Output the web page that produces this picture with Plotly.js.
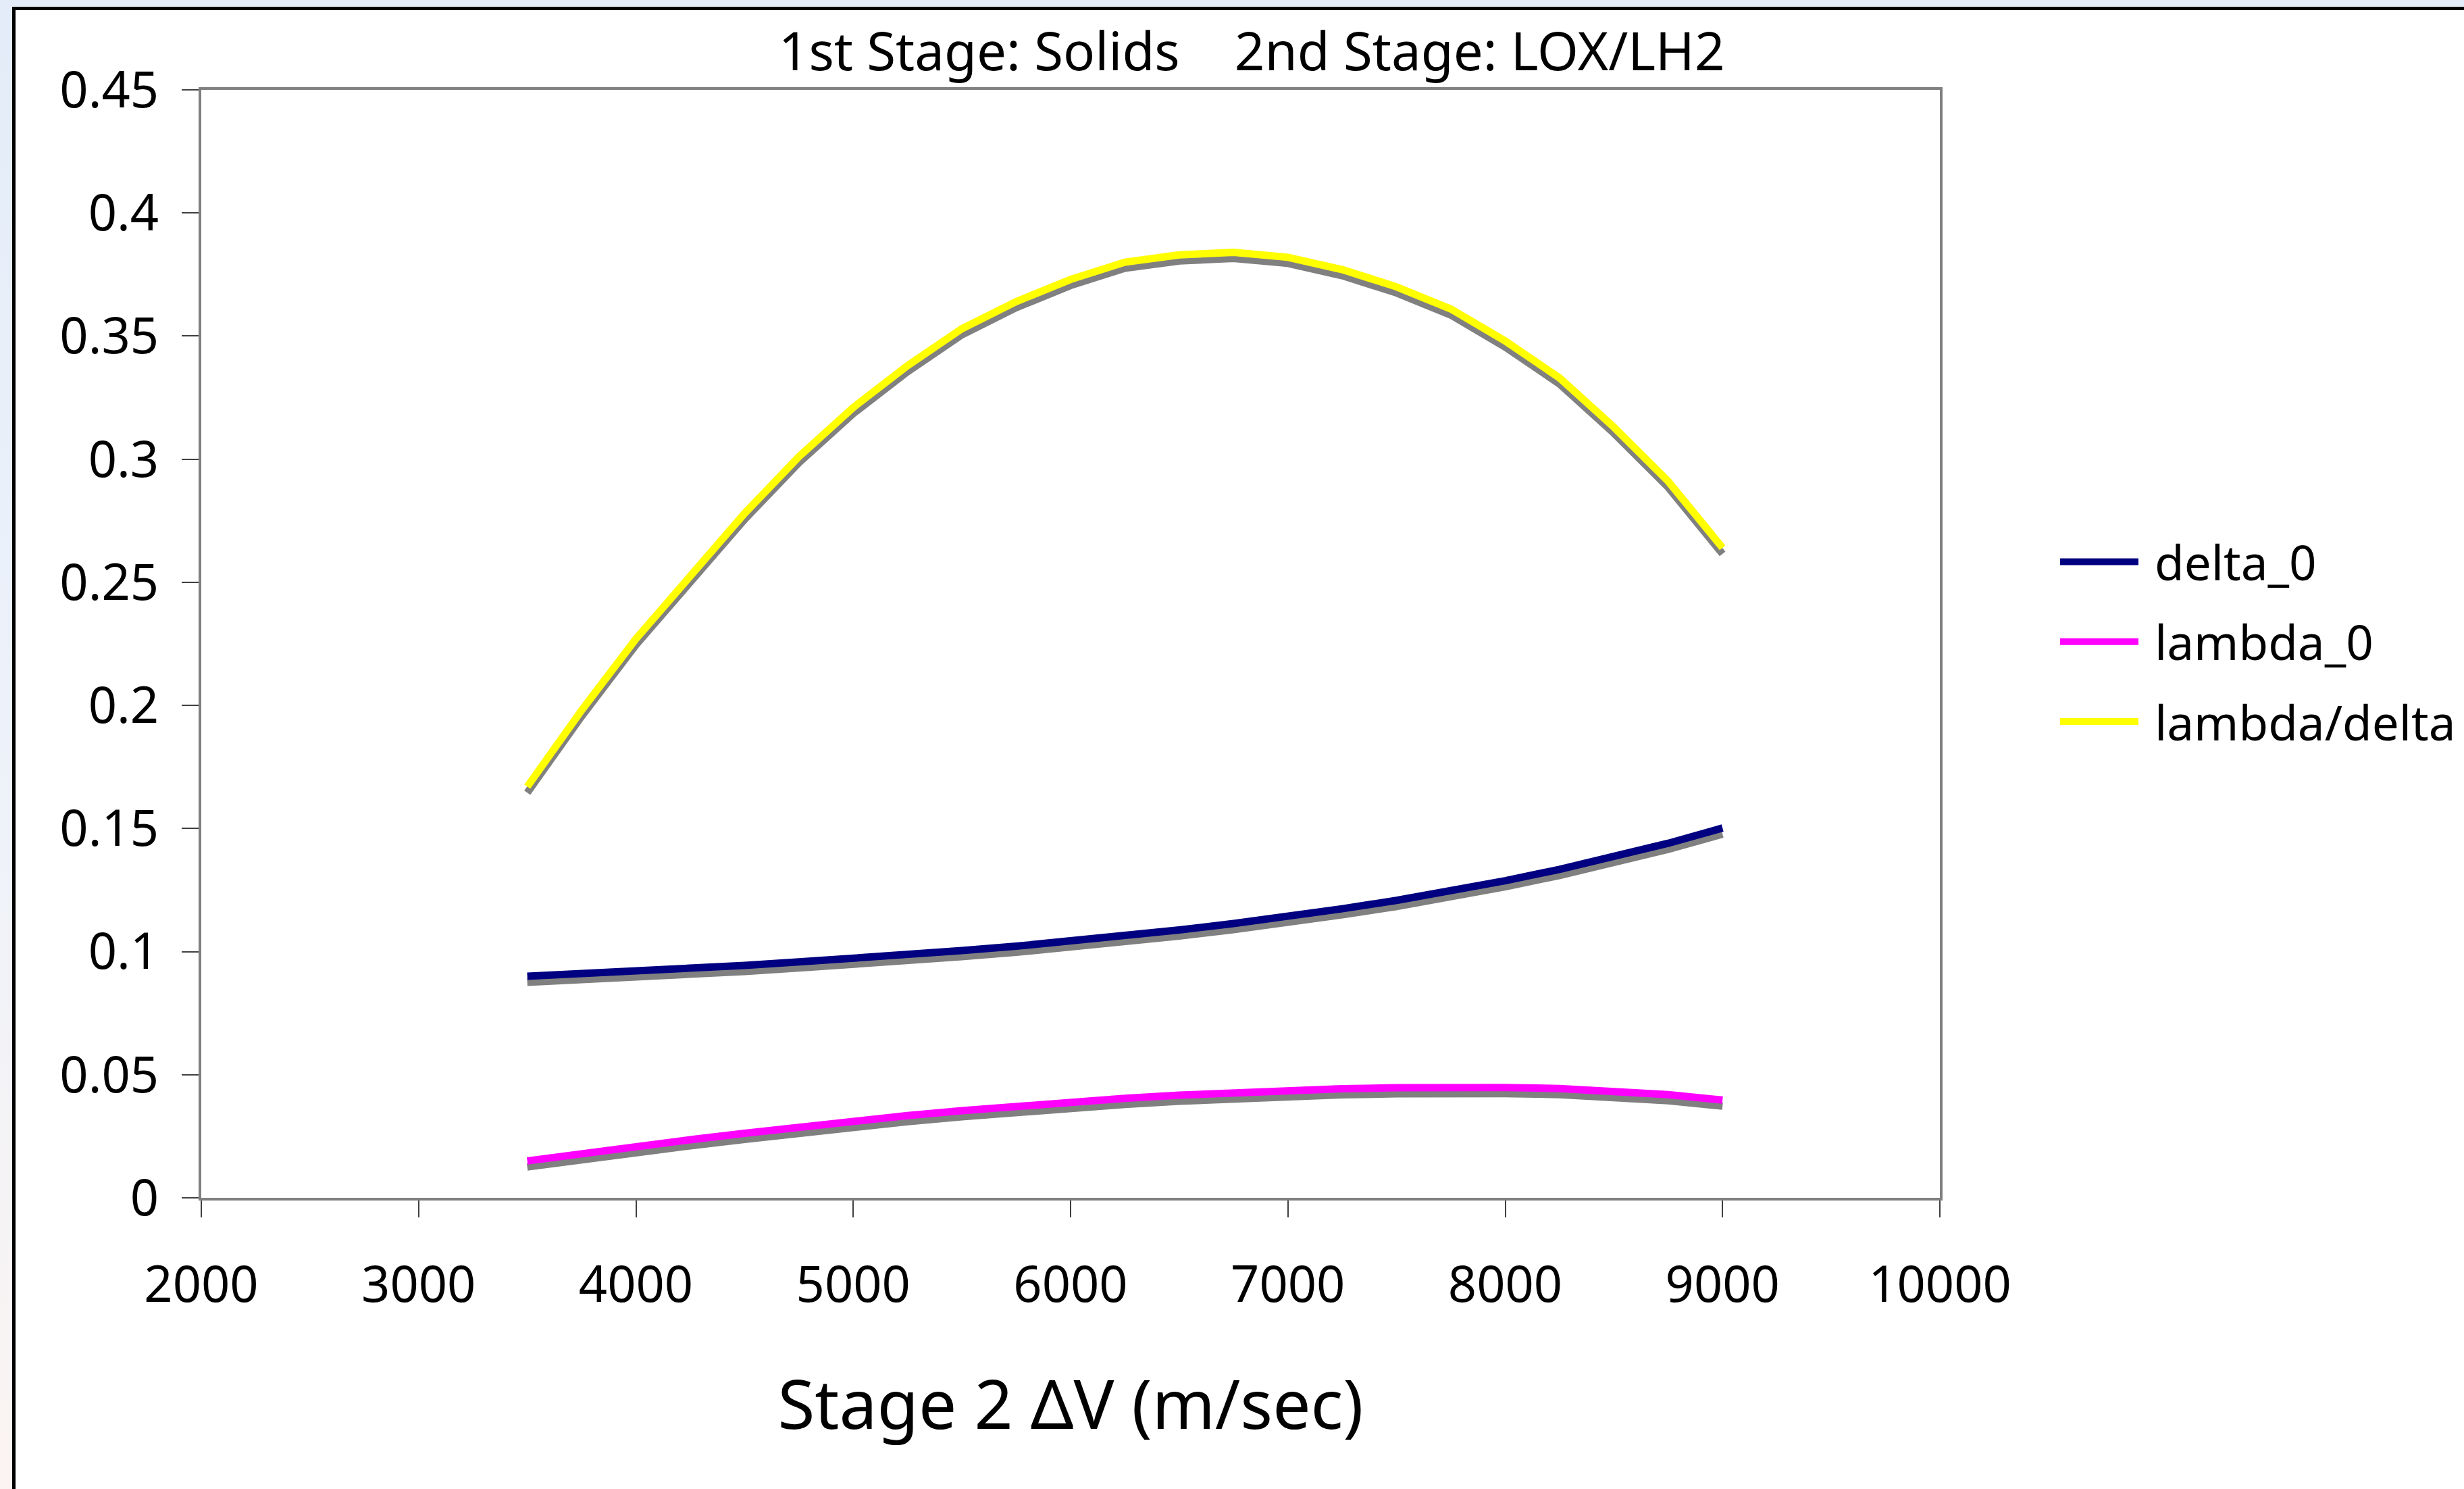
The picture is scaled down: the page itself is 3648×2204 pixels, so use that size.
<!DOCTYPE html>
<html><head><meta charset="utf-8">
<script src="https://cdn.plot.ly/plotly-3.0.1.min.js"></script>
<style>
html,body{margin:0;padding:0;width:3648px;height:2204px;overflow:hidden;background:linear-gradient(#e3ecf8,#edf2fa 50%,#fbf4f2);}
#frame{position:absolute;left:18px;top:10px;width:3700px;height:2300px;background:#fff;border:5px solid #000;box-sizing:border-box;}
#chart{position:absolute;left:0;top:0;width:3648px;height:2204px;}
</style></head><body>
<div id="frame"></div><div id="chart"></div>
<script>
// ---- data ----
const stage2DeltaV = [3500, 3750, 4000, 4250, 4500, 4750, 5000, 5250, 5500, 5750, 6000, 6250,
                      6500, 6750, 7000, 7250, 7500, 7750, 8000, 8250, 8500, 8750, 9000];
const delta0 = [0.0900, 0.0910, 0.0920, 0.0932, 0.0944, 0.0958, 0.0972, 0.0988, 0.1004, 0.1022, 0.1042, 0.1064,
                0.1088, 0.1114, 0.1142, 0.1174, 0.1208, 0.1246, 0.1288, 0.1334, 0.1384, 0.1440, 0.1502];
const lambda0 = [0.0150, 0.0180, 0.0209, 0.0236, 0.0262, 0.0288, 0.0312, 0.0334, 0.0354, 0.0372, 0.0389, 0.0404,
                 0.0417, 0.0428, 0.0436, 0.0443, 0.0447, 0.0450, 0.0448, 0.0444, 0.0433, 0.0419, 0.0397];
const lambdaOverDelta = [0.167, 0.198, 0.227, 0.253, 0.278, 0.301, 0.321, 0.338, 0.353, 0.364, 0.373, 0.380,
                         0.383, 0.384, 0.382, 0.377, 0.370, 0.361, 0.348, 0.333, 0.313, 0.291, 0.264];
const seriesNames = ['delta_0', 'lambda_0', 'lambda/delta'];
const seriesColors = ['#000080', '#FF00FF', '#FFFF00'];
const xTickVals = [2000, 3000, 4000, 5000, 6000, 7000, 8000, 9000, 10000];
const xTickText = ['2000', '3000', '4000', '5000', '6000', '7000', '8000', '9000', '10000'];
const yTickVals = [0, 0.05, 0.1, 0.15, 0.2, 0.25, 0.3, 0.35, 0.4, 0.45];
const yTickText = ['0', '0.05', '0.1', '0.15', '0.2', '0.25', '0.3', '0.35', '0.4', '0.45'];
const chartTitle = '1st Stage: Solids\u00A0\u00A0\u00A0\u00A02nd Stage: LOX/LH2';
const xTitle = 'Stage 2 \u0394V (m/sec)';

const seriesValues = [delta0, lambda0, lambdaOverDelta];
const FONT = 'Noto Sans, sans-serif';
const LW = 11;

const shadows = seriesValues.map((v, i) => ({
  type: 'scatter', mode: 'lines', x: stage2DeltaV, y: v,
  xaxis: 'x', yaxis: 'y', showlegend: false, hoverinfo: 'skip',
  line: {color: '#808080', width: LW}
}));
const mains = seriesValues.map((v, i) => ({
  type: 'scatter', mode: 'lines', x: stage2DeltaV, y: v, name: seriesNames[i],
  legendgroup: 'g' + i,
  xaxis: 'x', yaxis: 'y2',
  line: {color: seriesColors[i], width: LW}
}));

const axisLine = {showline: true, linecolor: '#808080', linewidth: 4, mirror: true,
  ticks: 'outside', ticklen: 25, tickwidth: 2, tickcolor: '#404040',
  showgrid: false, zeroline: false, automargin: false,
  tickfont: {family: FONT, size: 74, color: '#000'}};

const layout = {
  width: 3648, height: 2204,
  margin: {l: 298, r: 776, t: 133, b: 431, pad: 0, autoexpand: false},
  paper_bgcolor: 'rgba(0,0,0,0)', plot_bgcolor: '#ffffff',
  font: {family: FONT, color: '#000'},
  title: {text: chartTitle, font: {family: FONT, size: 78, color: '#000'},
          x: 0.508, xref: 'container', xanchor: 'center',
          y: 0.965, yref: 'container', yanchor: 'middle'},
  xaxis: Object.assign({}, axisLine, {
    range: [2000, 10000], tickvals: xTickVals, ticktext: xTickText, ticklabelstandoff: 36,
    title: {text: xTitle, font: {family: FONT, size: 100, color: '#000'}, standoff: 98}
  }),
  yaxis: {range: [0.00247, 0.45247], visible: false, showgrid: false, zeroline: false, automargin: false},
  yaxis2: Object.assign({}, axisLine, {
    overlaying: 'y', side: 'left', range: [0, 0.45],
    tickvals: yTickVals, ticktext: yTickText, ticklabelstandoff: 19
  }),
  showlegend: true,
  legend: {x: 1.0672, xanchor: 'left', y: 0.6062, yanchor: 'top', bgcolor: 'rgba(0,0,0,0)',
           borderwidth: 0, itemwidth: 135, tracegroupgap: 23,
           font: {family: FONT, size: 71, color: '#000'}}
};

Plotly.newPlot('chart', shadows.concat(mains), layout, {staticPlot: true}).then(gd => {
  gd.querySelectorAll('.legendlines path').forEach(p => p.setAttribute('d', 'M5,0h116'));
});
</script>
</body></html>
